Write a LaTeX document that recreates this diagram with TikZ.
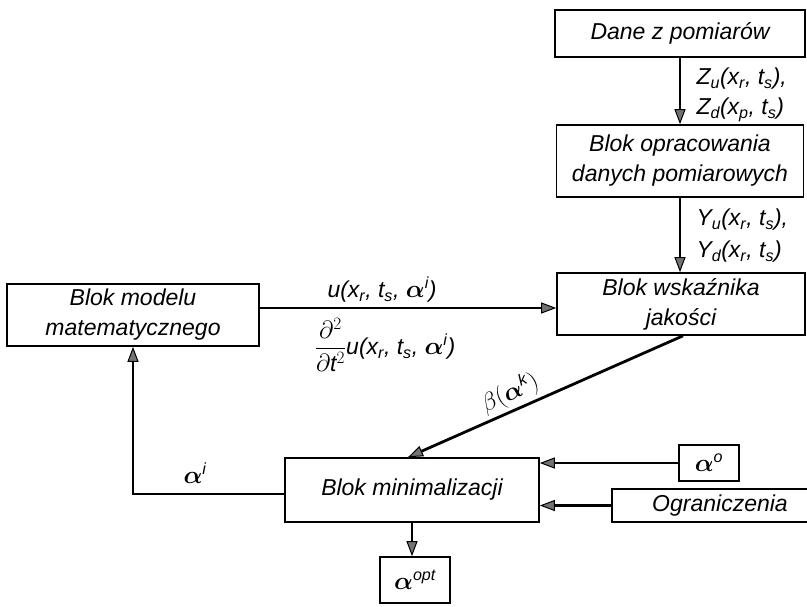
\documentclass[tikz,border=0pt]{standalone}
\usepackage{fontspec}
\setmainfont{Liberation Sans}
\usepackage{amsmath}
\usepackage{bm}
\usetikzlibrary{arrows.meta,calc}
\newcommand\sub[1]{\textsubscript{#1}}
\begin{document}
\begin{tikzpicture}[x=1pt,y=-1pt,
  every node/.style={font=\itshape\fontsize{23}{30}\selectfont},
  box/.style={draw, line width=1.6pt, inner sep=0pt, align=center},
  arr/.style={line width=2.8pt, -{Triangle[length=15pt,width=11pt,fill=black!55,line width=1pt]}}]
\useasboundingbox (0,0) rectangle (807,606);
% boxes
\node[box, minimum width=250pt, minimum height=47pt] (dane) at (680,33.5) {Dane z pomiarów};
\node[box, minimum width=247pt, minimum height=72pt] (oprac) at (680,161) {Blok opracowania\\danych pomiarowych};
\node[box, minimum width=248pt, minimum height=62pt] (wsk) at (681,304) {Blok wskaźnika\\jakości};
\node[box, minimum width=252pt, minimum height=62pt] (model) at (133,315) {Blok modelu\\matematycznego};
\node[box, minimum width=254pt, minimum height=64pt] (minim) at (412,490) {Blok minimalizacji};
\node[box, minimum width=60pt, minimum height=36pt] (a0) at (709,463) {$\bm{\alpha}^{\text{o}}$};
\node[box, minimum width=198pt, minimum height=33pt] (ogr) at (711,505.5) {\hspace*{18pt}Ograniczenia};
\node[box, minimum width=70pt, minimum height=46pt] (aopt) at (415,580) {$\bm{\alpha}^{\text{opt}}$};
% connectors
\draw[arr] (dane) -- (oprac);
\draw[arr] (oprac.south) -- (oprac.south |- wsk.north);
\draw[arr] ([yshift=7pt]model.east) -- ([yshift=7pt]model.east -| wsk.west);
\draw[arr] ([xshift=2pt]wsk.south) -- ([xshift=-4pt]minim.north);
\draw[arr] ([yshift=-4pt]minim.west) -| (model.south);
\draw[arr] (a0.west) -- (a0.west -| minim.east);
\draw[arr] (ogr.west) -- (ogr.west -| minim.east);
\draw[arr] (minim.south) -- (minim.south |- aopt.north);
% labels
\node[anchor=west] (zu) at (693,79) {Z\sub{u}(x\sub{r}, t\sub{s}),};
\node[anchor=west] (zd) at (693,110) {Z\sub{d}(x\sub{p}, t\sub{s})};
\node[anchor=west] (yu) at (693,220) {Y\sub{u}(x\sub{r}, t\sub{s}),};
\node[anchor=west] (yd) at (693,252) {Y\sub{d}(x\sub{r}, t\sub{s})};
\node (ul) at (382,290) {u(x\sub{r}, t\sub{s}, $\bm{\alpha}^{\text{i}}$)};
\node (dl) at (385,345) {$\dfrac{\partial^2}{\partial\text{t}^2}$u(x\sub{r}, t\sub{s}, $\bm{\alpha}^{\text{i}}$)};
\node (ai) at (195,473) {$\bm{\alpha}^{\text{i}}$};
\node[rotate=24.5] (bl) at (510,393) {$\beta(\bm{\alpha}^{\text{k}})$};
\end{tikzpicture}
\end{document}
